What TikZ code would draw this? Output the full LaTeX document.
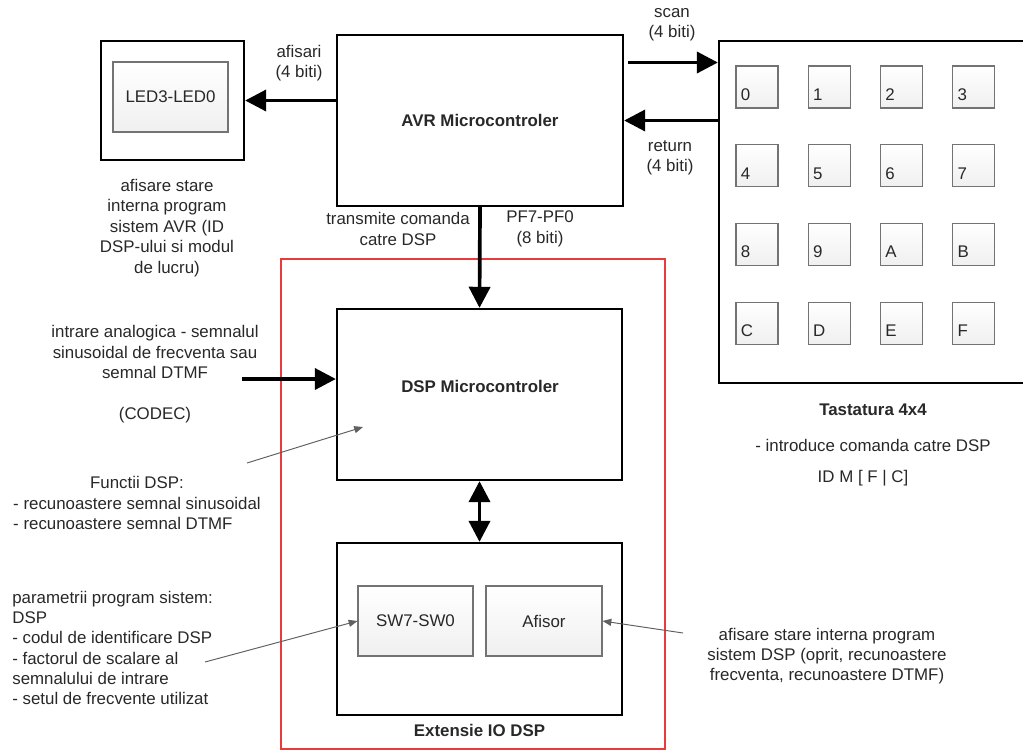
\documentclass[tikz,border=0pt]{standalone}
\usepackage{fontspec}
\setmainfont{Liberation Sans}
\usetikzlibrary{arrows.meta,positioning,calc,shadows}
\definecolor{boxred}{RGB}{232,60,60}
\definecolor{txt}{RGB}{40,40,40}
\definecolor{keyline}{RGB}{115,115,115}

\begin{document}
\begin{tikzpicture}[x=0.02cm,y=-0.02cm,
  font=\fontsize{9.6pt}{11.6pt}\selectfont, text=txt,
  block/.style={draw=black, line width=1.3pt, fill=white, inner sep=0pt,
    drop shadow={opacity=0.2,shadow xshift=0.7pt,shadow yshift=-0.7pt}},
  panel/.style={draw=keyline, line width=0.6pt, top color=white, bottom color=gray!12,
    inner sep=0pt, minimum width=115*0.02cm, minimum height=70*0.02cm},
  keycap/.style={panel, minimum width=42*0.02cm, minimum height=42*0.02cm},
  title/.style={font=\fontsize{9.6pt}{11.6pt}\selectfont\bfseries},
  note/.style={align=center, inner sep=0pt},
  bus/.style={line width=2.1pt, -{Triangle[length=12pt,width=12pt]}},
  busboth/.style={line width=2.1pt, {Triangle[length=12pt,width=12pt]}-{Triangle[length=12pt,width=12pt]}},
  pointer/.style={draw=gray!75!black, line width=0.55pt, -{Triangle[length=5pt,width=4pt]}}]
\useasboundingbox (0,0) rectangle (1023,751);
\clip (0,0) rectangle (1023,751);

% DSP side frame
\draw[boxred, line width=1.1pt] (281,259) rectangle (665,749);

\node[block, minimum width=286*0.02cm, minimum height=171*0.02cm] (avr) at (480,120.5) {\bfseries AVR Microcontroler};
\node[block, minimum width=143*0.02cm, minimum height=119*0.02cm] (ledbox) at (172.5,100.5) {};
\node[panel] (led) at (170.5,97) {LED3-LED0};
\node[block, minimum width=330*0.02cm, minimum height=342*0.02cm] (kbd) at (884,212) {};
\node[block, minimum width=285*0.02cm, minimum height=171*0.02cm] (dsp) at (479.5,394.5) {};
\node[title] (dspTitle) at (480,386) {DSP Microcontroler};
\node[block, minimum width=285*0.02cm, minimum height=172*0.02cm] (ext) at (479.5,629) {};
\node[panel] (sw) at (415.5,621) {SW7-SW0};
\node[panel, minimum width=116*0.02cm] (afisor) at (544,621) {Afisor};
\node[title, below=1pt of ext] (extTitle) {Extensie IO DSP};

% keys of the 4x4 pad
\foreach \k [count=\i from 0] in {0,1,2,3,4,5,6,7,8,9,A,B,C,D,E,F}{
  \pgfmathsetmacro\cx{757+72.3*mod(\i,4)}
  \pgfmathsetmacro\cy{87+78.7*int(\i/4)}
  \node[keycap] (key\k) at (\cx,\cy) {};
  \node[anchor=base west, inner sep=0pt] (lbl\k) at ($(key\k.south west)+(5,-8)$) {\k};
}

\draw[bus] (avr.west |- ledbox.east) -- (ledbox.east);
\coordinate (scanFrom) at ($(avr.east)+(4,-58)$);
\draw[bus] (scanFrom) -- (scanFrom -| kbd.west);
\draw[bus] (avr.east -| kbd.west) -- (avr.east);
\draw[bus] (avr.south) -- (dsp.north);
\draw[busboth] (dsp.south) -- (ext.north);
\coordinate (analogIn) at (242,379);
\draw[bus] (analogIn) -- (analogIn -| dsp.west);

\coordinate (fnFrom) at (247,463);
\coordinate (fnTip) at (363,427);
\draw[pointer] (fnFrom) -- (fnTip);
\coordinate (swFrom) at (205,662);
\draw[pointer] (swFrom) -- (sw.west);
\coordinate (afFrom) at (683,633);
\draw[pointer] (afFrom) -- (afisor.east);

\node[note] (afisariLbl) at (299,63) {afisari\\(4 biti)};
\node[note] (scanLbl) at (672,25) {scan\\(4 biti)};
\node[note] (returnLbl) at (670,158) {return\\(4 biti)};
\node[note] (cmdLbl) at (398,229) {transmite comanda\\catre DSP};
\node[note] (pfLbl) at (540,229) {PF7-PF0\\(8 biti)};
\node[note] (ledNote) at (167,228) {afisare stare\\interna program\\sistem AVR (ID\\DSP-ului si modul\\de lucru)};
\node[note] (analogNote) at (155,352) {intrare analogica - semnalul\\sinusoidal de frecventa sau\\semnal DTMF};
\node[note] (codecNote) at (155,415) {(CODEC)};
\node[inner sep=0pt] (fnNote) at (137,505) {\begin{tabular}{@{}l@{}}\multicolumn{1}{@{}c@{}}{Functii DSP:}\\- recunoastere semnal sinusoidal\\- recunoastere semnal DTMF\end{tabular}};
\node[note, align=left, anchor=west] (paramNote) at (12,648) {parametrii program sistem:\\DSP\\- codul de identificare DSP\\- factorul de scalare al\\semnalului de intrare\\- setul de frecvente utilizat};
\node[note] (afisorNote) at (827,656) {afisare stare interna program\\sistem DSP (oprit, recunoastere\\frecventa, recunoastere DTMF)};
\node[title] (kbdTitle) at (873,410) {Tastatura 4x4};
\node (kbdNote) at (873,445) {- introduce comanda catre DSP};
\node (kbdCode) at (863,478) {ID M [ F | C]};
\end{tikzpicture}
\end{document}
